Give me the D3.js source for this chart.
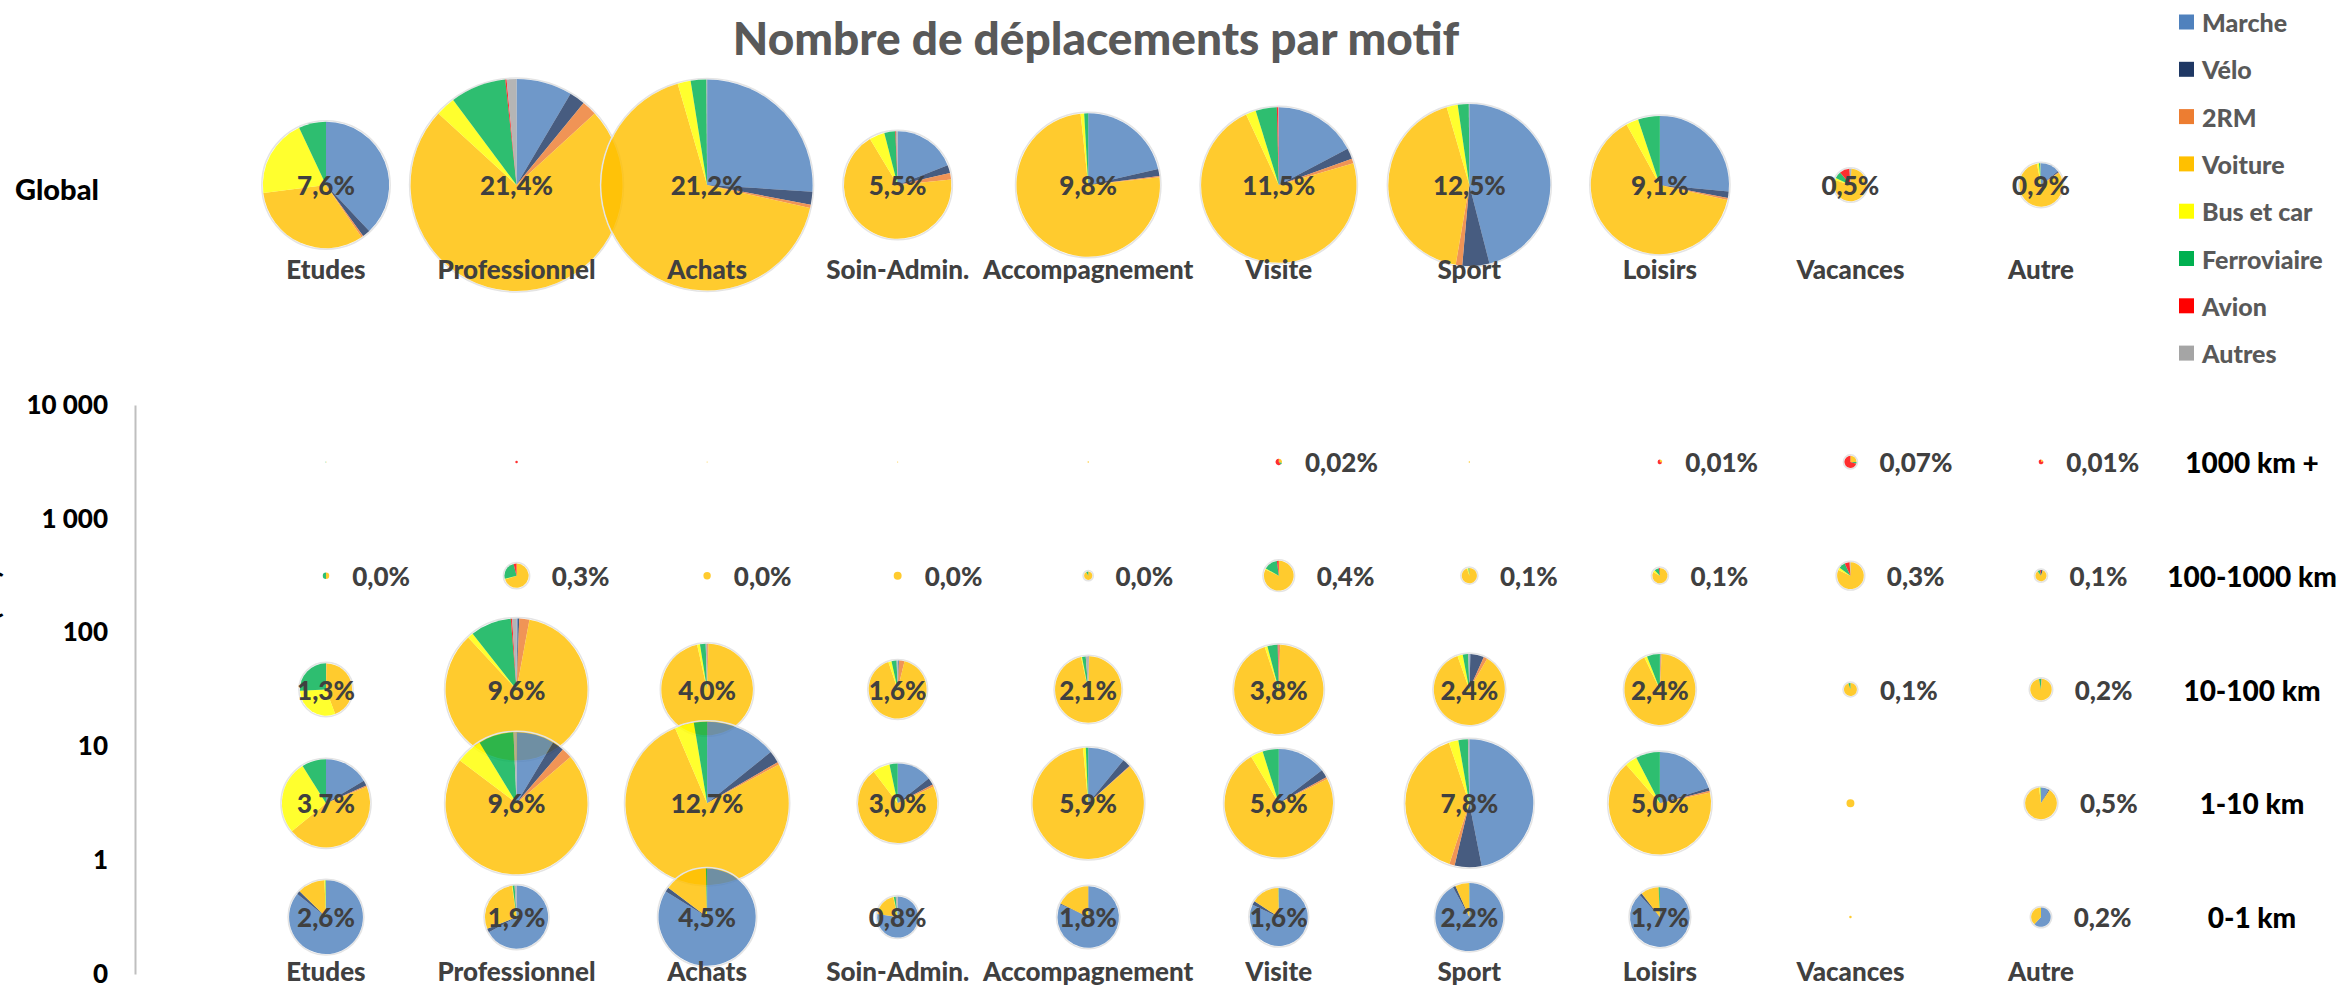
<!DOCTYPE html>
<html>
<head>
<meta charset="utf-8">
<script src="https://cdn.jsdelivr.net/npm/d3@7"></script>
<style>
	body { margin: 0; background: #fff; }
	text { font-family: Lato, "Open Sans", "DejaVu Sans", sans-serif; font-weight: 900; }
</style>
</head>
<body>
<svg id="chart"></svg>
<script>
// categories
const motifs = ['Etudes', 'Professionnel', 'Achats', 'Soin-Admin.', 'Accompagnement', 'Visite', 'Sport', 'Loisirs', 'Vacances', 'Autre'];
const modes = ['Marche', 'Vélo', '2RM', 'Voiture', 'Bus et car', 'Ferroviaire', 'Avion', 'Autres'];
const modeColors = ['#4F81BD', '#1F3864', '#ED7D31', '#FFC000', '#FFFF00', '#00B050', '#FF0000', '#A5A5A5'];
const distances = ['1000 km +', '100-1000 km', '10-100 km', '1-10 km', '0-1 km'];
const distanceBounds = [[1000, 10000], [100, 1000], [10, 100], [1, 10], [0.1, 1]];
const yTicks = [0.1, 1, 10, 100, 1000, 10000];

// share of all trips (%) per motif
const shareGlobal = [7.6, 21.4, 21.2, 5.5, 9.8, 11.5, 12.5, 9.1, 0.5, 0.9];
const share1000 = [0.0005, 0.003, 0.0005, 0.0005, 0.001, 0.02, 0.001, 0.01, 0.07, 0.01];
const share100 = [0.02, 0.28, 0.026, 0.03, 0.033, 0.42, 0.11, 0.11, 0.34, 0.06];
const share10 = [1.3, 9.6, 4.0, 1.6, 2.1, 3.8, 2.4, 2.4, 0.08, 0.22];
const share1 = [3.7, 9.6, 12.7, 3.0, 5.9, 5.6, 7.8, 5.0, 0.03, 0.48];
const share0 = [2.6, 1.9, 4.5, 0.8, 1.8, 1.6, 2.2, 1.7, 0.003, 0.18];

// modal split (%) per motif: Marche, Vélo, 2RM, Voiture, Bus et car, Ferroviaire, Avion, Autres
const splitGlobal = [
	[38, 2, 0.5, 32.5, 20, 7, 0, 0],
	[8.5, 2.4, 2.3, 73.6, 3, 8.5, 0.2, 1.5],
	[26, 2, 0.5, 67, 2, 2.4, 0, 0.1],
	[19, 2.4, 2, 68, 4.6, 3.3, 0.2, 0.5],
	[21.4, 1.6, 0.3, 75, 0.8, 0.9, 0, 0],
	[17.3, 2.2, 1, 72.6, 2.1, 4.4, 0.3, 0.1],
	[46, 5.4, 1.3, 42.8, 2.2, 2.2, 0, 0.1],
	[26.5, 1.5, 0.5, 63.5, 2.9, 5.1, 0, 0],
	[1, 0, 0, 79, 2, 7, 10, 1],
	[14, 1, 0.5, 81.5, 1.5, 1, 0, 0.5]
];
const split1000 = [
	[0, 0, 0, 50, 0, 50, 0, 0],
	[0, 0, 0, 0, 0, 0, 100, 0],
	[0, 0, 0, 100, 0, 0, 0, 0],
	[0, 0, 0, 100, 0, 0, 0, 0],
	[0, 0, 0, 100, 0, 0, 0, 0],
	[0, 0, 0, 30, 0, 10, 60, 0],
	[0, 0, 0, 100, 0, 0, 0, 0],
	[0, 0, 0, 30, 0, 0, 70, 0],
	[0, 0, 0, 25, 0, 5, 70, 0],
	[0, 0, 0, 20, 0, 0, 80, 0]
];
const split100 = [
	[0, 0, 0, 50, 0, 50, 0, 0],
	[0, 0, 0, 70, 1, 25, 4, 0],
	[0, 0, 0, 100, 0, 0, 0, 0],
	[0, 0, 0, 100, 0, 0, 0, 0],
	[0, 0, 0, 92, 0, 8, 0, 0],
	[0, 0, 0, 82, 1, 15, 2, 0],
	[0, 0, 0, 95, 3, 2, 0, 0],
	[0, 0, 0, 83, 5, 10, 2, 0],
	[0, 0, 0, 82, 3, 8, 6, 1],
	[0, 5, 0, 85, 0, 7, 3, 0]
];
const split10 = [
	[0, 0, 0.3, 44, 30, 25.7, 0, 0],
	[0.3, 0.3, 2.3, 85, 1.3, 9.3, 0.3, 1],
	[0, 0, 0.5, 96, 1, 2, 0, 0.5],
	[0.5, 0.3, 3, 91, 1.8, 2.8, 0, 0.6],
	[0.3, 0, 0.2, 96, 0.5, 1.8, 0, 1.2],
	[0, 0, 0.5, 94.4, 1, 3.7, 0.3, 0.1],
	[0.5, 6.2, 1.7, 86.2, 2.4, 2.5, 0, 0.5],
	[0.3, 0, 0.5, 92, 1.3, 5.9, 0, 0],
	[0, 0, 0, 95, 0, 5, 0, 0],
	[1, 0, 0, 96, 0, 3, 0, 0]
];
const split1 = [
	[16.4, 2, 0.5, 45.2, 27, 8.9, 0, 0],
	[8.6, 2.7, 2.4, 71.6, 6, 8, 0, 0.7],
	[14.2, 2.4, 0.5, 76.5, 3.8, 2.6, 0, 0],
	[14.3, 2.9, 0.8, 71.7, 7, 3.3, 0, 0],
	[10.9, 2.4, 0.2, 85, 0.8, 0.7, 0, 0],
	[14.6, 2.4, 0.6, 73.9, 3.7, 4.8, 0, 0],
	[46.9, 6.8, 1.35, 39.8, 2.4, 2.4, 0, 0.35],
	[20.1, 1, 0.5, 67, 3.8, 7.6, 0, 0],
	[0, 0, 0, 100, 0, 0, 0, 0],
	[8, 1, 0, 89, 1.5, 0.5, 0, 0]
];
const split0 = [
	[85.8, 1.5, 0, 12, 0.5, 0.2, 0, 0],
	[67, 2, 0, 28.7, 0.3, 1, 0, 1],
	[83.8, 1.5, 0, 14.3, 0, 0.4, 0, 0],
	[77.5, 0, 0, 19, 0.5, 1.5, 0, 1.5],
	[81.8, 0.5, 0, 17.7, 0, 0, 0, 0],
	[82, 2.2, 0, 15.6, 0, 0.2, 0, 0],
	[92, 1.3, 0, 6.6, 0, 0.1, 0, 0],
	[88.2, 1.4, 0, 9.7, 0, 0.7, 0, 0],
	[0, 0, 0, 100, 0, 0, 0, 0],
	[62, 0, 0, 38, 0, 0, 0, 0]
];

const distanceShares = [share1000, share100, share10, share1, share0];
const distanceSplits = [split1000, split100, split10, split1, split0];
const labelDecimals = [2, 1, 1, 1, 1];
const unlabelled = {
	'1000 km +': ['Etudes', 'Professionnel', 'Achats', 'Soin-Admin.', 'Accompagnement', 'Sport'],
	'1-10 km': ['Vacances'],
	'0-1 km': ['Vacances']
};

const width = 2343, height = 990;
const svg = d3.select('#chart').attr('width', width).attr('height', height);

const x = d3.scalePoint().domain(motifs).range([326, 2041]);
const y = d3.scaleLog().domain([0.1, 10000]).range([974, 405]);
const r = d3.scaleSqrt().domain([0, 21.4]).range([0, 106]);
const color = d3.scaleOrdinal().domain(modes).range(modeColors);
const pie = d3.pie().sort(null).value(d => d);
const arc = d3.arc().innerRadius(0);
const globalY = 185;

const pct = (v, dec) => d3.format(`.${dec}f`)(v).replace('.', ',') + '%';

// build all the cells
let cells = [];
motifs.forEach((m, i) => {
	cells.push({ motif: m, cx: x(m), cy: globalY, value: shareGlobal[i], split: splitGlobal[i], dec: 1, centred: true, show: true });
});
distances.forEach((dist, j) => {
	const cy = y(Math.sqrt(distanceBounds[j][0] * distanceBounds[j][1]));
	const hidden = unlabelled[dist] || [];
	motifs.forEach((m, i) => {
		const v = distanceShares[j][i];
		cells.push({ motif: m, cx: x(m), cy: cy, value: v, split: distanceSplits[j][i], dec: labelDecimals[j], centred: v >= 0.75, show: !hidden.includes(m) });
	});
});

// y axis
const yAxis = d3.axisLeft(y)
	.tickValues(yTicks)
	.tickSize(0)
	.tickPadding(27)
	.tickFormat(d => d < 1 ? '0' : d3.format(',')(d).replace(/,/g, ' '));
const ax = svg.append('g').attr('transform', 'translate(135,0)').call(yAxis);
ax.select('.domain').attr('stroke', '#bfbfbf').attr('stroke-width', 2);
ax.selectAll('text').attr('font-size', 26).attr('fill', '#000')
	.style('font-family', 'Lato, "Open Sans", sans-serif').style('font-weight', '900');

// clipped axis title at the left edge
svg.append('text')
	.attr('transform', 'translate(-1,570) rotate(-90)')
	.attr('text-anchor', 'end')
	.attr('font-size', 26)
	.attr('fill', '#000')
	.text('Distance (km)');

// pies
const pies = svg.append('g');
for (let c of cells) {
	const rad = r(c.value);
	const g = pies.append('g').attr('transform', `translate(${c.cx},${c.cy})`);
	if (rad > 4) {
		g.append('circle').attr('r', rad + 1).attr('fill', 'none').attr('stroke', '#e4e4e4').attr('stroke-width', 1.5);
	}
	g.selectAll('path')
		.data(pie(c.split))
		.enter()
		.append('path')
		.attr('d', arc.outerRadius(rad))
		.attr('fill', (d, i) => color(modes[i]))
		.attr('fill-opacity', 0.82);
}

// pie labels
const labels = svg.append('g');
for (let c of cells) {
	if (!c.show) { continue; }
	const rad = r(c.value);
	labels.append('text')
		.attr('x', c.centred ? c.cx : c.cx + rad + 23)
		.attr('y', c.cy)
		.attr('text-anchor', c.centred ? 'middle' : 'start')
		.attr('dominant-baseline', 'central')
		.attr('font-size', 26)
		.attr('fill', '#404040')
		.text(pct(c.value, c.dec));
}

// category labels, top and bottom
for (let ly of [269, 971]) {
	svg.append('g').selectAll('text')
		.data(motifs)
		.enter()
		.append('text')
		.attr('x', d => x(d))
		.attr('y', ly)
		.attr('text-anchor', 'middle')
		.attr('dominant-baseline', 'central')
		.attr('font-size', 26)
		.attr('fill', '#404040')
		.text(d => d);
}

// row labels
svg.append('text')
	.attr('x', 15).attr('y', globalY + 3)
	.attr('dominant-baseline', 'central')
	.attr('font-size', 29)
	.attr('fill', '#000')
	.text('Global');
svg.append('g').selectAll('text')
	.data(distances)
	.enter()
	.append('text')
	.attr('x', 2252)
	.attr('y', (d, j) => y(Math.sqrt(distanceBounds[j][0] * distanceBounds[j][1])))
	.attr('text-anchor', 'middle')
	.attr('dominant-baseline', 'central')
	.attr('font-size', 28)
	.attr('fill', '#000')
	.text(d => d);

// title
svg.append('text')
	.attr('x', 1096).attr('y', 37)
	.attr('text-anchor', 'middle')
	.attr('dominant-baseline', 'central')
	.attr('font-size', 46)
	.attr('fill', '#595959')
	.text('Nombre de déplacements par motif');

// legend
const legend = svg.append('g').selectAll('g')
	.data(modes)
	.enter()
	.append('g')
	.attr('transform', (d, i) => `translate(2179,${22 + i * 47.3})`);
legend.append('rect')
	.attr('x', 0).attr('y', -7.5)
	.attr('width', 15).attr('height', 15)
	.attr('fill', d => color(d));
legend.append('text')
	.attr('x', 23).attr('y', 0)
	.attr('dominant-baseline', 'central')
	.attr('font-size', 25)
	.attr('fill', '#595959')
	.text(d => d);
</script>
</body>
</html>
